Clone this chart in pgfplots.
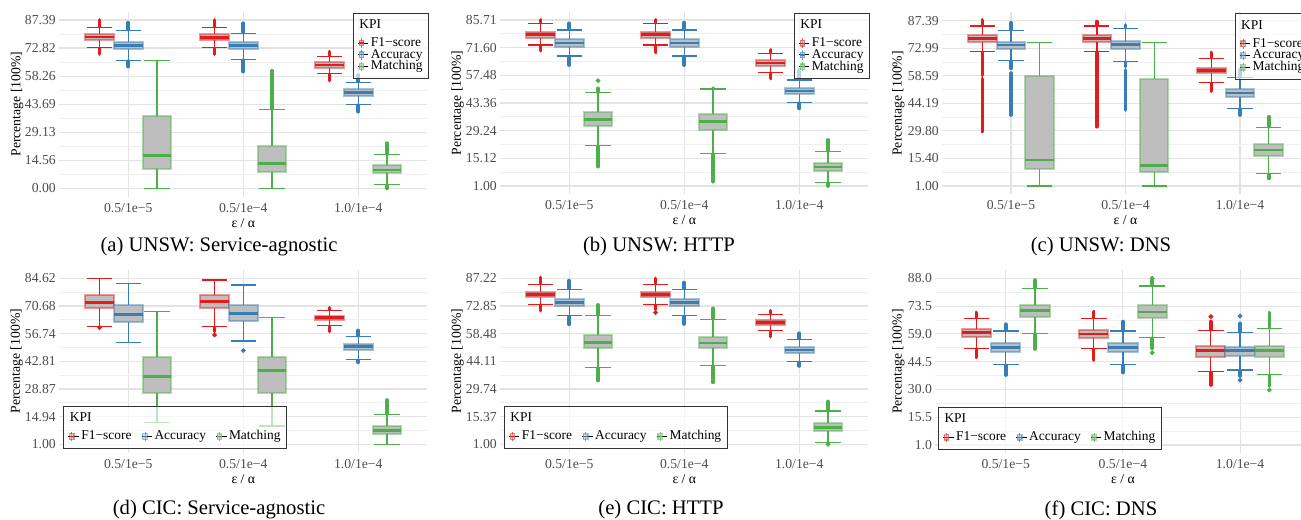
\documentclass[border=0pt]{standalone}
\usepackage{fontspec}
\setmainfont{Liberation Serif}
\usepackage{pgfplots}
\pgfplotsset{compat=1.18}
\usepgfplotslibrary{statistics}

\definecolor{cF}{HTML}{E41A1C}
\definecolor{cA}{HTML}{377EB8}
\definecolor{cM}{HTML}{4DAF4A}
\definecolor{boxgray}{HTML}{BEBEBE}
\definecolor{gridmaj}{HTML}{E3E3E3}
\definecolor{gridmin}{HTML}{EFEFEF}
\definecolor{tickgray}{HTML}{4D4D4D}

\newcommand{\tf}{\fontsize{5.5}{6}\selectfont}
\newcommand{\lf}{\fontsize{5.4}{6}\selectfont}
\newcommand{\cf}{\fontsize{8.3}{9}\selectfont}

% box: position, colour, lower whisker, lower quartile, median, upper quartile, upper whisker
\newcommand{\kbox}[7]{\addplot[forget plot, boxplot prepared={draw direction=y, draw position=#1,
  lower whisker=#3, lower quartile=#4, median=#5, upper quartile=#6, upper whisker=#7,
  box extend=0.25, whisker extend=0.22,
  every box/.style={draw=#2, draw opacity=0.45, fill=boxgray, line width=0.8bp},
  every median/.style={draw=#2, line width=1bp},
  every whisker/.style={draw=#2, line width=0.5bp}}] coordinates {};}
% dense run of outliers: position, colour, from, to
\newcommand{\kol}[4]{\addplot[forget plot, draw=#2, line width=1.5bp, line cap=round] coordinates {(#1,#3) (#1,#4)};}
% single outlier
\newcommand{\kdot}[3]{\addplot[forget plot, only marks, mark=*, mark size=0.75bp, draw=#2, fill=#2] coordinates {(#1,#3)};}

\pgfplotsset{
  panel/.style={
    scale only axis,
    xmin=-0.6, xmax=2.6,
    xtick={0,1,2},
    xticklabels={0.5/1e−5,0.5/1e−4,1.0/1e−4},
    axis line style={draw=none},
    major tick length=0pt, minor tick length=0pt,
    xmajorgrids, ymajorgrids, yminorgrids,
    major grid style={draw=gridmaj, line width=0.45bp},
    minor grid style={draw=gridmin, line width=0.3bp},
    tick label style={font=\tf, text=tickgray},
    yticklabel style={anchor=east, inner sep=0pt, xshift=-1.2bp},
    xticklabel style={anchor=base, inner sep=0pt, yshift=-6.2bp},
    xlabel={ε / α}, ylabel={Percentage [100\%]},
    label style={font=\tf},
    xlabel style={at={(axis description cs:0.5,0)}, anchor=base, yshift=-12.2bp},
    legend cell align=left,
    legend style={font=\lf, draw=black!80, line width=0.4bp, fill=white,
      fill opacity=0.65, draw opacity=1, text opacity=1,
      inner xsep=1.6bp, inner ysep=2.4bp,
      nodes={inner xsep=0.8bp, inner ysep=0.2bp, text height=3.5bp, text depth=0.8bp}, row sep=0pt},
  },
  ylabpos/.style={ylabel style={at={(axis description cs:#1,0.5)}, anchor=center}},
  kpileg/.style={legend image code/.code={
    \path (0,0) -- (4.2bp,0);
    \draw[draw=#1, draw opacity=0.7, line width=0.35bp] (1.4bp,-1.9bp) -- (1.4bp,1.9bp);
    \draw[draw=#1, draw opacity=0.5, fill=boxgray, line width=0.5bp] (0.5bp,-1.1bp) rectangle (2.3bp,1.1bp);
    \draw[draw=#1, line width=0.5bp] (0.5bp,0) -- (2.3bp,0);}},
  toplegend/.style={legend style={at={(0.798,0.994)}, anchor=north west}},
  botlegend/.style={legend columns=3, legend style={at={(#1,0.02)}, anchor=south west,
    /tikz/every even column/.append style={column sep=3bp}}},
}

\newcommand{\vlegend}{%
  \addlegendimage{empty legend}\addlegendentry[text depth=3.3bp]{\hspace*{-4.6bp}KPI}
  \addlegendimage{kpileg=cF}\addlegendentry{F1−score}
  \addlegendimage{kpileg=cA}\addlegendentry{Accuracy}
  \addlegendimage{kpileg=cM}\addlegendentry{Matching}}
\newcommand{\hlegend}{%
  \addlegendimage{empty legend}\addlegendentry[text depth=3.3bp]{\hspace*{-4.6bp}KPI}
  \addlegendimage{empty legend}\addlegendentry{}
  \addlegendimage{empty legend}\addlegendentry{}
  \addlegendimage{kpileg=cF}\addlegendentry{F1−score}
  \addlegendimage{kpileg=cA}\addlegendentry{Accuracy}
  \addlegendimage{kpileg=cM}\addlegendentry{Matching}}

\begin{document}
\begin{tikzpicture}

% (a) UNSW: Service-agnostic
\begin{axis}[panel, toplegend, ylabpos=-0.115,
  at={(23.72bp,129.32bp)}, anchor=south west, width=147.2bp, height=74.04bp,
  ymin=-4.3695, ymax=91.7595,
  ytick={0,14.565,29.13,43.695,58.26,72.825,87.39},
  yticklabels={0.00,14.56,29.13,43.69,58.26,72.82,87.39},
  minor ytick={7.28,21.85,36.41,50.98,65.54,80.11}]
\kol{-0.25}{cF}{84.0}{87.4}\kol{-0.25}{cF}{69.7}{72.6}
\kbox{-0.25}{cF}{73.2}{77.0}{78.6}{80.0}{83.4}
\kol{0}{cA}{82.6}{86.0}\kol{0}{cA}{63.2}{65.9}
\kbox{0}{cA}{66.5}{72.2}{74.1}{76.1}{82.0}
\kbox{0.25}{cM}{0}{9.9}{17.0}{37.7}{66.5}
\kol{0.75}{cF}{84.0}{87.4}\kol{0.75}{cF}{69.6}{72.6}
\kbox{0.75}{cF}{73.2}{76.8}{78.4}{80.0}{83.4}
\kol{1}{cA}{81.1}{85.7}\kol{1}{cA}{60.6}{66.4}
\kbox{1}{cA}{67.0}{72.2}{74.1}{75.8}{80.5}
\kol{1.25}{cM}{41.6}{61.0}
\kbox{1.25}{cM}{0}{8.7}{12.8}{22.0}{41.0}
\kol{1.75}{cF}{69.1}{71.0}\kol{1.75}{cF}{55.9}{59.1}
\kbox{1.75}{cF}{59.7}{62.6}{64.0}{65.4}{68.5}
\kol{2}{cA}{55.6}{58.8}\kol{2}{cA}{39.8}{43.0}
\kbox{2}{cA}{43.6}{48.1}{49.7}{51.4}{55.0}
\kol{2.25}{cM}{18.3}{23.4}\kol{2.25}{cM}{0.0}{1.0}
\kbox{2.25}{cM}{2.1}{7.8}{9.5}{12.1}{17.7}
\vlegend
\end{axis}

% (b) UNSW: HTTP
\begin{axis}[panel, toplegend, ylabpos=-0.1157,
  at={(200.12bp,130.28bp)}, anchor=south west, width=147.2bp, height=73.04bp,
  ymin=-3.2355, ymax=89.9455,
  ytick={1,15.118,29.237,43.355,57.473,71.592,85.71},
  yticklabels={1.00,15.12,29.24,43.36,57.48,71.60,85.71},
  minor ytick={8.06,22.18,36.30,50.41,64.53,78.65}]
\kol{-0.25}{cF}{84.6}{85.7}\kol{-0.25}{cF}{70.1}{72.4}
\kbox{-0.25}{cF}{73.0}{76.7}{78.2}{79.8}{84.0}
\kol{0}{cA}{81.2}{84.0}\kol{0}{cA}{62.7}{66.7}
\kbox{0}{cA}{67.3}{72.1}{74.0}{75.8}{80.6}
\kol{0.25}{cM}{49.4}{50.8}\kdot{0.25}{cM}{54.75}\kol{0.25}{cM}{10.9}{21.0}
\kbox{0.25}{cM}{21.6}{31.6}{35.0}{38.6}{48.8}
\kol{0.75}{cF}{84.6}{85.7}\kol{0.75}{cF}{69.2}{72.4}
\kbox{0.75}{cF}{73.0}{76.7}{78.2}{79.8}{84.0}
\kol{1}{cA}{81.2}{84.4}\kol{1}{cA}{62.7}{66.7}
\kbox{1}{cA}{67.3}{72.1}{74.0}{75.8}{80.6}
\kdot{1.25}{cM}{50.6}\kol{1.25}{cM}{3.2}{17.1}
\kbox{1.25}{cM}{17.7}{29.6}{33.8}{37.7}{50.5}
\kol{1.75}{cF}{69.3}{70.4}\kol{1.75}{cF}{55.9}{58.2}
\kbox{1.75}{cF}{58.8}{62.4}{63.8}{65.1}{68.7}
\kol{2}{cA}{55.7}{60.2}\kol{2}{cA}{40.6}{43.1}
\kbox{2}{cA}{43.7}{47.9}{49.6}{51.2}{55.1}
\kol{2.25}{cM}{19.1}{24.5}\kol{2.25}{cM}{1.0}{2.3}
\kbox{2.25}{cM}{2.9}{8.65}{10.7}{12.6}{18.5}
\vlegend
\end{axis}

% (c) UNSW: DNS
\begin{axis}[panel, toplegend, ylabpos=-0.12,
  at={(376.92bp,130.28bp)}, anchor=south west, width=146.56bp, height=72.76bp,
  ymin=-3.3195, ymax=91.7095,
  ytick={1,15.398,29.797,44.195,58.593,72.992,87.39},
  yticklabels={1.00,15.40,29.80,44.19,58.59,72.99,87.39},
  minor ytick={8.20,22.60,37.00,51.39,65.79,80.19}]
\kol{-0.25}{cF}{85.2}{87.7}\kol{-0.25}{cF}{59.0}{70.6}\kol{-0.25}{cF}{29.4}{57.0}
\kbox{-0.25}{cF}{71.2}{76.1}{78.0}{79.9}{84.6}
\kol{0}{cA}{82.8}{86.3}\kol{0}{cA}{62.5}{66.1}\kol{0}{cA}{38.1}{60.0}
\kbox{0}{cA}{66.7}{72.4}{74.7}{76.4}{82.2}
\kbox{0.25}{cM}{1.0}{9.7}{14.6}{58.65}{75.9}
\kol{0.75}{cF}{85.2}{86.9}\kol{0.75}{cF}{58.0}{70.6}\kol{0.75}{cF}{32.0}{57.0}
\kbox{0.75}{cF}{71.2}{76.1}{78.0}{79.9}{84.6}
\kol{1}{cA}{84.0}{85.2}\kol{1}{cA}{63.3}{65.5}\kol{1}{cA}{40.7}{61.6}
\kbox{1}{cA}{66.1}{72.4}{74.85}{76.9}{83.4}
\kbox{1.25}{cM}{1.0}{8.5}{11.6}{56.7}{75.9}
\kol{1.75}{cF}{68.3}{70.7}\kol{1.75}{cF}{50.6}{54.6}
\kbox{1.75}{cF}{55.2}{59.9}{61.3}{62.8}{67.7}
\kol{2}{cA}{58.4}{61.6}\kol{2}{cA}{38.1}{41.0}
\kbox{2}{cA}{41.6}{47.7}{49.6}{51.9}{57.8}
\kol{2.25}{cM}{32.1}{37.2}\kol{2.25}{cM}{5.0}{7.0}
\kbox{2.25}{cM}{7.6}{16.7}{19.8}{22.8}{31.5}
\vlegend
\end{axis}

% (d) CIC: Service-agnostic
\begin{axis}[panel, botlegend=0.011, ylabpos=-0.1158,
  at={(23.72bp,26.96bp)}, anchor=south west, width=147.2bp, height=73.04bp,
  ymin=-3.181, ymax=88.801,
  ytick={1,14.937,28.873,42.81,56.747,70.683,84.62},
  yticklabels={1.00,14.94,28.87,42.81,56.74,70.68,84.62},
  minor ytick={7.97,21.91,35.84,49.78,63.71,77.65}]
\kdot{-0.25}{cF}{59.8}
\kbox{-0.25}{cF}{60.4}{69.5}{72.4}{76.4}{84.62}
\kbox{0}{cA}{52.4}{62.5}{66.5}{71.0}{82.1}
\kbox{0.25}{cM}{12.1}{27.0}{35.1}{44.8}{67.8}
\kol{0.75}{cF}{57.8}{59.8}\kdot{0.75}{cF}{56.1}
\kbox{0.75}{cF}{60.4}{69.8}{73.0}{76.4}{83.8}
\kdot{1}{cA}{48.2}
\kbox{1}{cA}{53.1}{63.3}{67.0}{71.2}{81.3}
\kbox{1.25}{cM}{10.2}{27.0}{38.3}{44.8}{65.0}
\kol{1.75}{cF}{68.9}{69.8}\kol{1.75}{cF}{57.8}{60.2}
\kbox{1.75}{cF}{60.8}{63.6}{64.8}{65.8}{68.3}
\kol{2}{cA}{55.8}{58.3}\kol{2}{cA}{42.3}{43.2}
\kbox{2}{cA}{43.8}{48.5}{50.2}{51.5}{55.2}
\kol{2.25}{cM}{16.7}{23.3}
\kbox{2.25}{cM}{1.0}{6.0}{7.9}{10.2}{16.1}
\hlegend
\end{axis}

% (e) CIC: HTTP
\begin{axis}[panel, botlegend=0.01, ylabpos=-0.1158,
  at={(200.12bp,26.96bp)}, anchor=south west, width=147.2bp, height=73.04bp,
  ymin=-3.311, ymax=91.531,
  ytick={1,15.37,29.74,44.11,58.48,72.85,87.22},
  yticklabels={1.00,15.37,29.74,44.11,58.48,72.85,87.22},
  minor ytick={8.185,22.555,36.925,51.295,65.665,80.035}]
\kol{-0.25}{cF}{84.7}{87.7}\kol{-0.25}{cF}{70.4}{73.1}
\kbox{-0.25}{cF}{73.7}{77.35}{78.9}{80.3}{84.1}
\kol{0}{cA}{82.1}{86.0}\kol{0}{cA}{63.3}{67.2}
\kbox{0}{cA}{67.8}{72.85}{74.75}{76.5}{81.5}
\kol{0.25}{cM}{68.4}{73.4}\kol{0.25}{cM}{34.1}{40.4}
\kbox{0.25}{cM}{41.0}{50.9}{54.0}{58.0}{67.8}
\kol{0.75}{cF}{84.7}{87.2}\kol{0.75}{cF}{71.0}{73.1}\kdot{0.75}{cF}{69.4}
\kbox{0.75}{cF}{73.7}{77.35}{78.9}{80.3}{84.1}
\kol{1}{cA}{82.1}{85.0}\kol{1}{cA}{63.5}{67.2}
\kbox{1}{cA}{67.8}{72.85}{74.75}{76.5}{81.5}
\kol{1.25}{cM}{66.5}{71.6}\kol{1.25}{cM}{33.2}{41.3}
\kbox{1.25}{cM}{41.9}{50.9}{53.5}{56.9}{65.9}
\kol{1.75}{cF}{69.1}{70.4}\kol{1.75}{cF}{56.9}{59.4}
\kbox{1.75}{cF}{60.0}{63.0}{64.2}{65.4}{68.5}
\kol{2}{cA}{56.1}{58.7}\kol{2}{cA}{41.7}{43.3}
\kbox{2}{cA}{43.9}{48.3}{50.0}{51.4}{55.5}
\kol{2.25}{cM}{18.9}{23.2}\kdot{2.25}{cM}{1.0}
\kbox{2.25}{cM}{2.0}{7.9}{9.8}{11.9}{18.3}
\hlegend
\end{axis}

% (f) CIC: DNS
\begin{axis}[panel, botlegend=0.007, ylabpos=-0.099,
  at={(374.16bp,26.68bp)}, anchor=south west, width=150bp, height=73.32bp,
  ymin=-3.35, ymax=92.35,
  ytick={1,15.5,30,44.5,59,73.5,88},
  yticklabels={1.0,15.5,30.0,44.5,59.0,73.5,88.0},
  minor ytick={8.25,22.75,37.25,51.75,66.25,80.75}]
\kol{-0.25}{cF}{67.7}{70.1}\kol{-0.25}{cF}{46.8}{50.9}
\kbox{-0.25}{cF}{51.5}{57.2}{59.8}{61.4}{67.1}
\kol{0}{cA}{61.1}{64.0}\kol{0}{cA}{37.5}{42.5}
\kbox{0}{cA}{43.1}{49.7}{51.8}{54.1}{60.5}
\kol{0.25}{cM}{83.4}{87.1}\kol{0.25}{cM}{51.1}{58.7}
\kbox{0.25}{cM}{59.3}{68.0}{71.1}{74.1}{82.8}
\kol{0.75}{cF}{67.7}{70.6}\kol{0.75}{cF}{45.4}{50.9}
\kbox{0.75}{cF}{51.5}{57.0}{58.9}{61.0}{67.1}
\kol{1}{cA}{61.1}{65.4}\kol{1}{cA}{38.8}{42.5}
\kbox{1}{cA}{43.1}{49.7}{51.8}{54.1}{60.5}
\kol{1.25}{cM}{84.6}{87.0}\kdot{1.25}{cM}{88.0}\kol{1.25}{cM}{51.5}{56.6}\kdot{1.25}{cM}{49.2}
\kbox{1.25}{cM}{57.2}{67.1}{70.3}{74.1}{84.0}
\kol{1.75}{cF}{61.3}{65.4}\kdot{1.75}{cF}{68.0}\kol{1.75}{cF}{32.3}{38.7}
\kbox{1.75}{cF}{39.3}{47.1}{50.2}{52.9}{60.7}
\kol{2}{cA}{60.2}{64.5}\kdot{2}{cA}{68.3}\kol{2}{cA}{37.0}{39.6}\kdot{2}{cA}{34.9}
\kbox{2}{cA}{40.15}{47.5}{50.2}{52.3}{59.6}
\kol{2.25}{cM}{62.5}{70.1}\kol{2.25}{cM}{31.8}{37.3}\kdot{2.25}{cM}{29.7}
\kbox{2.25}{cM}{37.9}{47.1}{50.2}{52.9}{61.9}
\hlegend
\end{axis}

\node[font=\cf] at (87.6bp,109.3bp) {(a) UNSW: Service-agnostic};
\node[font=\cf] at (263.6bp,109.3bp) {(b) UNSW: HTTP};
\node[font=\cf] at (440.4bp,109.3bp) {(c) UNSW: DNS};
\node[font=\cf] at (87.6bp,4bp) {(d) CIC: Service-agnostic};
\node[font=\cf] at (264.4bp,4bp) {(e) CIC: HTTP};
\node[font=\cf] at (440.4bp,4bp) {(f) CIC: DNS};

\pgfresetboundingbox
\path[use as bounding box] (0,0) rectangle (520.4bp,208bp);
\end{tikzpicture}
\end{document}
